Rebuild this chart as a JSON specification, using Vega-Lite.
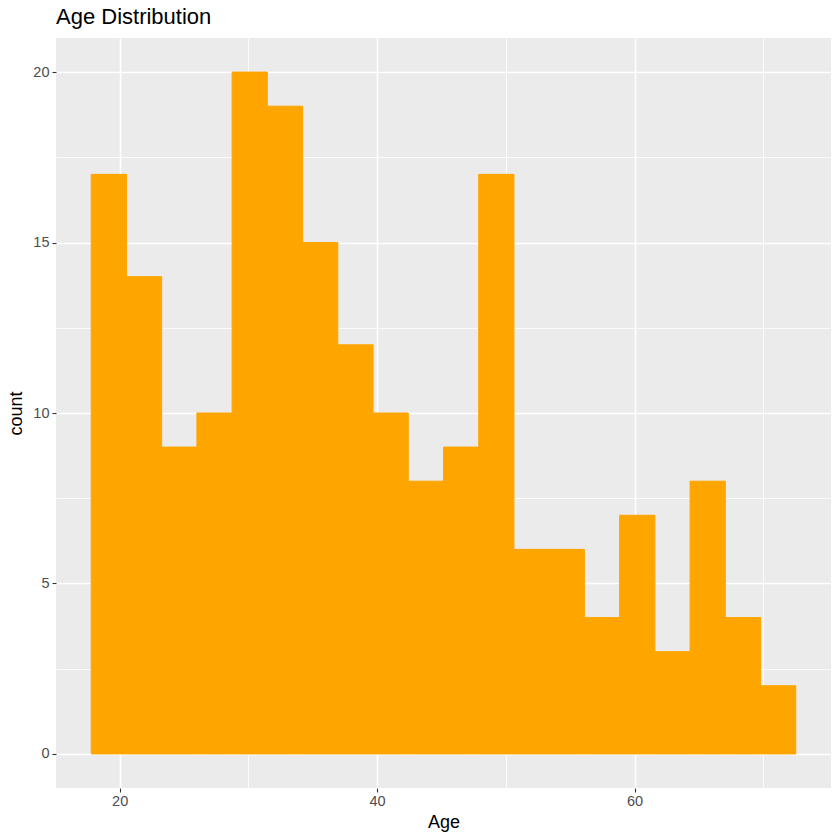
{
  "$schema": "https://vega.github.io/schema/vega-lite/v6.json",
  "width": 775,
  "height": 750,
  "autosize": {"type": "none"},
  "padding": {"left": 56, "top": 38, "right": 9, "bottom": 52},
  "background": "white",
  "title": {
    "text": "Age Distribution",
    "anchor": "start",
    "frame": "group",
    "font": "Liberation Sans",
    "fontSize": 22,
    "fontWeight": "normal",
    "color": "#000000",
    "offset": 9
  },
  "config": {
    "view": {"fill": "#EBEBEB", "stroke": null},
    "axis": {
      "labelFont": "Liberation Sans",
      "titleFont": "Liberation Sans",
      "labelFontSize": 14.5,
      "labelColor": "#4D4D4D",
      "titleFontSize": 18,
      "titleFontWeight": "normal",
      "titleColor": "#000000",
      "domain": false,
      "tickColor": "#333333",
      "tickSize": 4,
      "tickWidth": 1.1,
      "gridColor": "#FFFFFF"
    }
  },
  "data": {
    "values": [
      {"bin_start": 17.789, "bin_end": 20.526, "count": 17},
      {"bin_start": 20.526, "bin_end": 23.263, "count": 14},
      {"bin_start": 23.263, "bin_end": 26.0, "count": 9},
      {"bin_start": 26.0, "bin_end": 28.737, "count": 10},
      {"bin_start": 28.737, "bin_end": 31.474, "count": 20},
      {"bin_start": 31.474, "bin_end": 34.211, "count": 19},
      {"bin_start": 34.211, "bin_end": 36.947, "count": 15},
      {"bin_start": 36.947, "bin_end": 39.684, "count": 12},
      {"bin_start": 39.684, "bin_end": 42.421, "count": 10},
      {"bin_start": 42.421, "bin_end": 45.158, "count": 8},
      {"bin_start": 45.158, "bin_end": 47.895, "count": 9},
      {"bin_start": 47.895, "bin_end": 50.632, "count": 17},
      {"bin_start": 50.632, "bin_end": 53.368, "count": 6},
      {"bin_start": 53.368, "bin_end": 56.105, "count": 6},
      {"bin_start": 56.105, "bin_end": 58.842, "count": 4},
      {"bin_start": 58.842, "bin_end": 61.579, "count": 7},
      {"bin_start": 61.579, "bin_end": 64.316, "count": 3},
      {"bin_start": 64.316, "bin_end": 67.053, "count": 8},
      {"bin_start": 67.053, "bin_end": 69.789, "count": 4},
      {"bin_start": 69.789, "bin_end": 72.526, "count": 2}
    ]
  },
  "layer": [
    {
      "mark": {"type": "rect", "color": "#FFA500", "stroke": "#FFA500", "strokeWidth": 1},
      "encoding": {
        "x": {
          "field": "bin_start",
          "type": "quantitative",
          "title": "Age",
          "scale": {"domain": [15.053, 75.263], "nice": false, "zero": false},
          "axis": {"values": [20, 40, 60], "grid": true, "gridWidth": 1.6, "labelPadding": 2, "titlePadding": 6}
        },
        "x2": {"field": "bin_end"},
        "y": {
          "field": "count",
          "type": "quantitative",
          "title": "count",
          "scale": {"domain": [-1, 21], "nice": false, "zero": false},
          "axis": {"values": [0, 5, 10, 15, 20], "grid": true, "gridWidth": 1.6, "labelPadding": 3, "titlePadding": 7}
        },
        "y2": {"datum": 0}
      }
    },
    {
      "mark": {"type": "rect", "opacity": 0},
      "encoding": {
        "x": {
          "field": "bin_start",
          "type": "quantitative",
          "axis": {"values": [30, 50, 70], "grid": true, "gridWidth": 0.8, "labels": false, "ticks": false, "title": null}
        },
        "x2": {"field": "bin_end"},
        "y": {
          "field": "count",
          "type": "quantitative",
          "axis": {"values": [2.5, 7.5, 12.5, 17.5], "grid": true, "gridWidth": 0.8, "labels": false, "ticks": false, "title": null}
        },
        "y2": {"datum": 0}
      }
    }
  ],
  "resolve": {"axis": {"x": "independent", "y": "independent"}}
}
